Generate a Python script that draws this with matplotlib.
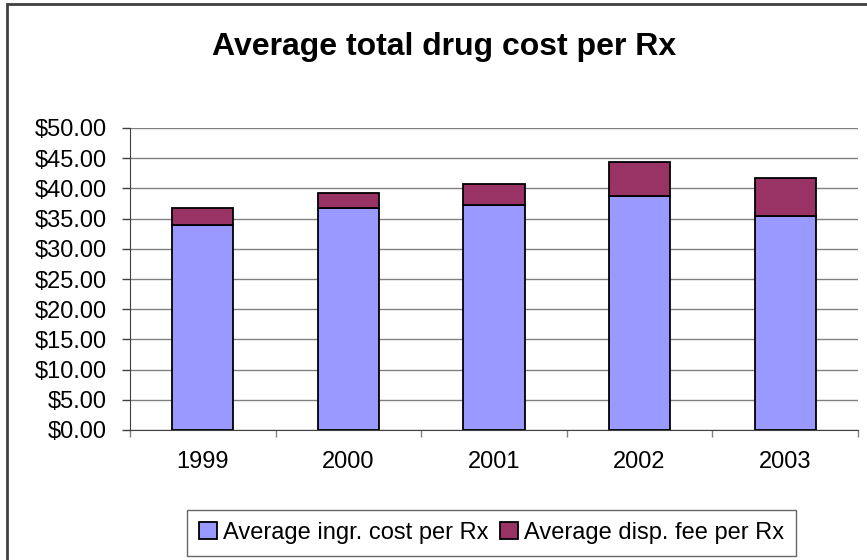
import matplotlib.pyplot as plt
from matplotlib.patches import Rectangle
from matplotlib.ticker import FuncFormatter
import numpy as np

years = ["1999", "2000", "2001", "2002", "2003"]
ingr_cost = [34.0, 36.7, 37.3, 38.7, 35.4]
disp_fee = [2.7, 2.6, 3.4, 5.6, 6.3]

plt.rcParams['font.family'] = ['Liberation Sans', 'DejaVu Sans']

fig = plt.figure(figsize=(8.67, 5.60), dpi=100)
ax = fig.add_axes([130 / 867, 1 - 430 / 560, 728 / 867, 302 / 560])

x = np.arange(len(years))
ax.bar(x, ingr_cost, width=0.42, color="#9999FF", edgecolor="black", linewidth=1.3,
       label="Average ingr. cost per Rx", zorder=3)
ax.bar(x, disp_fee, bottom=ingr_cost, width=0.42, color="#993366", edgecolor="black",
       linewidth=1.3, label="Average disp. fee per Rx", zorder=3)

ax.set_xlim(-0.5, len(years) - 0.5)
ax.set_ylim(0, 50)
ax.set_yticks(np.arange(0, 50.1, 5))
ax.yaxis.set_major_formatter(FuncFormatter(lambda v, p: f"${v:.2f}"))
ax.yaxis.grid(True, color="#808080", linewidth=1.0, zorder=0)

ax.set_xticks(x)
ax.set_xticklabels(years)
ax.set_xticks(np.arange(-0.5, len(years), 1.0), minor=True)
ax.tick_params(axis="x", which="major", length=0, pad=15, labelsize=17)
ax.tick_params(axis="x", which="minor", length=5, width=1, color="#808080", direction="out")
ax.tick_params(axis="y", length=6, width=1, color="#404040", pad=11, labelsize=17)

for s in ["top", "right"]:
    ax.spines[s].set_visible(False)
ax.spines["left"].set_color("#404040")
ax.spines["bottom"].set_color("#404040")

fig.text(444 / 867, 1 - 47 / 560, "Average total drug cost per Rx", ha="center", va="center",
         fontsize=23, fontweight="bold")

leg = fig.legend(loc="center", bbox_to_anchor=((185 + 798) / 2 / 867, 1 - 533 / 560),
                 ncol=2, frameon=True, fancybox=False, edgecolor="#404040",
                 fontsize=17, handlelength=0.75, handleheight=0.75, handletextpad=0.25,
                 columnspacing=0.5, borderpad=0.5, borderaxespad=0)
leg.get_frame().set_linewidth(1.0)

fig.patches.append(Rectangle((7 / 867, -0.1), 2, 1.1 - 4 / 560, transform=fig.transFigure,
                             fill=False, edgecolor="#404040", linewidth=2))

fig.savefig("out.png", dpi=100)
